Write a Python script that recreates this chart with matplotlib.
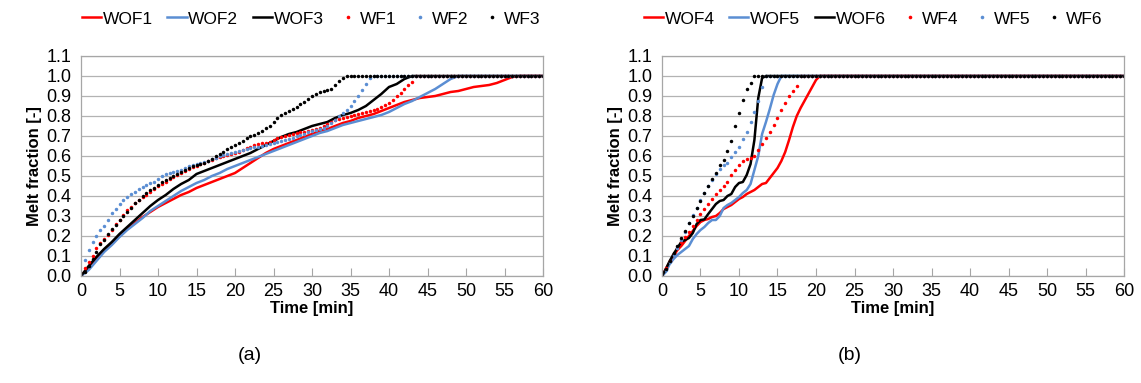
import numpy as np
import matplotlib
matplotlib.use("Agg")
import matplotlib.pyplot as plt
from matplotlib.lines import Line2D

plt.rcParams['font.family'] = ['Liberation Sans', 'DejaVu Sans']

RED = '#ff0000'
BLUE = '#5b8ed3'
BLACK = '#000000'

# ---- panel (a) data ----
# solid lines, 1 min steps
t_wof_a = list(range(0, 58)) + [60]
wof1 = [0.0, 0.045, 0.09, 0.13, 0.16, 0.2, 0.235, 0.265, 0.295, 0.32,
        0.345, 0.365, 0.385, 0.405, 0.42, 0.44, 0.455, 0.47, 0.485, 0.5,
        0.515, 0.54, 0.565, 0.59, 0.615, 0.635, 0.65, 0.665, 0.68, 0.695,
        0.71, 0.725, 0.735, 0.75, 0.765, 0.775, 0.79, 0.8, 0.81, 0.825,
        0.84, 0.855, 0.87, 0.88, 0.89, 0.895, 0.9, 0.91, 0.92, 0.925,
        0.935, 0.945, 0.95, 0.955, 0.965, 0.98, 0.995, 1.0, 1.0]
t_wof2 = list(range(0, 50)) + [60]
wof2 = [0.0, 0.03, 0.075, 0.12, 0.155, 0.195, 0.23, 0.26, 0.29, 0.325,
        0.35, 0.375, 0.4, 0.425, 0.445, 0.465, 0.48, 0.5, 0.515, 0.535,
        0.55, 0.565, 0.58, 0.595, 0.61, 0.625, 0.64, 0.655, 0.67, 0.685,
        0.7, 0.715, 0.725, 0.74, 0.755, 0.765, 0.775, 0.785, 0.795, 0.805,
        0.82, 0.84, 0.86, 0.875, 0.895, 0.915, 0.935, 0.96, 0.985, 1.0, 1.0]
t_wof3 = list(range(0, 44)) + [60]
wof3 = [0.0, 0.05, 0.095, 0.135, 0.17, 0.21, 0.245, 0.28, 0.315, 0.35,
        0.38, 0.405, 0.435, 0.46, 0.48, 0.51, 0.525, 0.54, 0.555, 0.57,
        0.585, 0.6, 0.615, 0.635, 0.655, 0.675, 0.695, 0.71, 0.72, 0.735,
        0.75, 0.76, 0.77, 0.79, 0.805, 0.815, 0.83, 0.85, 0.88, 0.91,
        0.945, 0.96, 0.985, 1.0, 1.0]

# dotted series, 0.5 min steps (rising part, then held at 1.0)
t_dots = np.arange(0, 60.01, 0.5)
wf1_rise = [0.0, 0.04, 0.07, 0.1, 0.14, 0.165, 0.185, 0.205, 0.23, 0.26,
            0.28, 0.305, 0.33, 0.345, 0.365, 0.38, 0.395, 0.405, 0.42, 0.435,
            0.45, 0.46, 0.47, 0.485, 0.495, 0.505, 0.515, 0.525, 0.535, 0.545,
            0.55, 0.56, 0.565, 0.575, 0.58, 0.59, 0.595, 0.6, 0.605, 0.61,
            0.615, 0.62, 0.63, 0.64, 0.645, 0.655, 0.66, 0.665, 0.665, 0.67,
            0.68, 0.69, 0.695, 0.7, 0.705, 0.71, 0.715, 0.72, 0.72, 0.725,
            0.73, 0.735, 0.74, 0.75, 0.76, 0.77, 0.78, 0.785, 0.79, 0.795,
            0.8, 0.805, 0.81, 0.815, 0.82, 0.825, 0.83, 0.835, 0.845, 0.855,
            0.865, 0.88, 0.9, 0.915, 0.935, 0.955, 0.97, 1.0]
wf2_rise = [0.0, 0.08, 0.13, 0.17, 0.2, 0.23, 0.25, 0.28, 0.315, 0.335,
            0.36, 0.38, 0.395, 0.41, 0.42, 0.435, 0.445, 0.455, 0.465, 0.472,
            0.485, 0.5, 0.51, 0.515, 0.52, 0.525, 0.53, 0.54, 0.55, 0.555,
            0.56, 0.565, 0.57, 0.575, 0.585, 0.59, 0.6, 0.605, 0.61, 0.615,
            0.62, 0.625, 0.63, 0.635, 0.64, 0.645, 0.645, 0.65, 0.655, 0.66,
            0.665, 0.67, 0.675, 0.68, 0.685, 0.69, 0.7, 0.705, 0.71, 0.72,
            0.725, 0.73, 0.735, 0.74, 0.75, 0.765, 0.78, 0.8, 0.815, 0.83,
            0.85, 0.875, 0.9, 0.93, 0.96, 0.99, 1.0]
wf3_rise = [0.0, 0.02, 0.05, 0.085, 0.12, 0.16, 0.18, 0.21, 0.235, 0.255,
            0.28, 0.3, 0.32, 0.34, 0.365, 0.38, 0.4, 0.415, 0.43, 0.44,
            0.455, 0.47, 0.48, 0.49, 0.5, 0.51, 0.52, 0.53, 0.54, 0.55,
            0.555, 0.56, 0.565, 0.575, 0.585, 0.6, 0.61, 0.62, 0.635, 0.645,
            0.655, 0.665, 0.675, 0.69, 0.7, 0.705, 0.715, 0.725, 0.74, 0.75,
            0.77, 0.79, 0.805, 0.815, 0.825, 0.835, 0.845, 0.86, 0.87, 0.885,
            0.9, 0.91, 0.92, 0.925, 0.93, 0.935, 0.955, 0.975, 0.99, 1.0]

# ---- panel (b) data ----
t_wof4 = list(np.arange(0, 20.51, 0.5)) + [60]
wof4 = [0.0, 0.035, 0.07, 0.1, 0.13, 0.15, 0.175, 0.2, 0.225, 0.25,
        0.27, 0.28, 0.285, 0.295, 0.3, 0.315, 0.335, 0.345, 0.355, 0.37,
        0.385, 0.395, 0.41, 0.42, 0.43, 0.445, 0.46, 0.465, 0.49, 0.515,
        0.54, 0.575, 0.62, 0.68, 0.745, 0.8, 0.84, 0.875, 0.91, 0.945,
        0.98, 1.0, 1.0]
t_wof5 = list(np.arange(0, 15.51, 0.5)) + [60]
wof5 = [0.0, 0.02, 0.06, 0.085, 0.105, 0.12, 0.135, 0.15, 0.185, 0.21,
        0.23, 0.245, 0.265, 0.28, 0.28, 0.3, 0.34, 0.355, 0.365, 0.38,
        0.395, 0.415, 0.43, 0.46, 0.53, 0.6, 0.71, 0.77, 0.835, 0.905,
        0.96, 1.0, 1.0]
t_wof6 = list(np.arange(0, 13.51, 0.5)) + [60]
wof6 = [0.0, 0.035, 0.075, 0.11, 0.14, 0.17, 0.18, 0.19, 0.215, 0.26,
        0.28, 0.283, 0.31, 0.335, 0.36, 0.375, 0.38, 0.4, 0.41, 0.445,
        0.465, 0.47, 0.505, 0.56, 0.68, 0.89, 0.99, 1.0, 1.0]

wf4_rise = [0.0, 0.04, 0.075, 0.11, 0.14, 0.17, 0.195, 0.22, 0.25, 0.28,
            0.31, 0.335, 0.36, 0.385, 0.41, 0.43, 0.45, 0.468, 0.505, 0.53,
            0.555, 0.575, 0.585, 0.59, 0.6, 0.63, 0.66, 0.69, 0.72, 0.755,
            0.79, 0.83, 0.865, 0.9, 0.925, 0.95, 1.0]
wf5_rise = [0.0, 0.03, 0.07, 0.105, 0.14, 0.18, 0.22, 0.265, 0.305, 0.34,
            0.38, 0.413, 0.45, 0.48, 0.51, 0.535, 0.555, 0.567, 0.595, 0.62,
            0.645, 0.685, 0.72, 0.77, 0.82, 0.875, 0.945, 1.0]
wf6_rise = [0.0, 0.035, 0.075, 0.113, 0.15, 0.19, 0.225, 0.263, 0.3, 0.34,
            0.377, 0.417, 0.45, 0.485, 0.517, 0.553, 0.58, 0.625, 0.677, 0.75,
            0.813, 0.878, 0.937, 0.963, 1.0]


def held(vals):
    return vals + [1.0] * (len(t_dots) - len(vals))


panels = [
    dict(lines=[(t_wof_a, wof1, 'WOF1', RED), (t_wof2, wof2, 'WOF2', BLUE),
                (t_wof3, wof3, 'WOF3', BLACK)],
         dots=[(wf1_rise, 'WF1', RED), (wf2_rise, 'WF2', BLUE),
               (wf3_rise, 'WF3', BLACK)],
         tag='(a)', leg_x=311, tag_x=250),
    dict(lines=[(t_wof4, wof4, 'WOF4', RED), (t_wof5, wof5, 'WOF5', BLUE),
                (t_wof6, wof6, 'WOF6', BLACK)],
         dots=[(wf4_rise, 'WF4', RED), (wf5_rise, 'WF5', BLUE),
               (wf6_rise, 'WF6', BLACK)],
         tag='(b)', leg_x=873, tag_x=850),
]

W, H = 1141, 383
fig = plt.figure(figsize=(W / 100, H / 100), dpi=100)
ax_lefts = [81 / W, 662 / W]
ax_w = 462 / W
ax_b = 1 - 276 / H
ax_h = 220 / H

for i, p in enumerate(panels):
    ax = fig.add_axes([ax_lefts[i], ax_b, ax_w, ax_h])
    handles = []
    for t, v, name, c in p['lines']:
        h, = ax.plot(t, v, '-', color=c, lw=1.8, label=name)
        handles.append(h)
    for v, name, c in p['dots']:
        h, = ax.plot(t_dots, held(v), 'o', color=c, ms=2.5, mew=0,
                     label=name)
        handles.append(h)

    ax.set_xlim(0, 60)
    ax.set_ylim(0, 1.1)
    ax.set_xticks(np.arange(0, 61, 5))
    ax.set_yticks(np.arange(0, 1.11, 0.1))
    ax.set_yticklabels([f"{y:.1f}" for y in np.arange(0, 1.11, 0.1)])
    ax.yaxis.grid(True, color='#b3b3b3', lw=0.9)
    ax.set_axisbelow(True)
    for s in ax.spines.values():
        s.set_color('#a6a6a6')
        s.set_linewidth(0.9)
    ax.tick_params(axis='x', direction='in', length=6, color='#a6a6a6',
                   labelsize=13, pad=5)
    ax.tick_params(axis='y', length=0, labelsize=13, pad=7)
    ax.set_xlabel('Time [min]', fontsize=12, fontweight='bold', labelpad=1)
    ax.set_ylabel('Melt fraction [-]', fontsize=12, fontweight='bold',
                  labelpad=3)

    leg_handles = []
    for h in handles:
        if h.get_linestyle() == '-':
            leg_handles.append(Line2D([], [], color=h.get_color(), lw=1.8))
        else:
            leg_handles.append(Line2D([], [], color=h.get_color(), ls='none',
                                      marker='o', ms=2.6, mew=0))
    fig.legend(leg_handles, [h.get_label() for h in handles], ncol=6,
               loc='center', bbox_to_anchor=(p['leg_x'] / W, 1 - 19 / H),
               frameon=False, fontsize=12.5, handlelength=1.1,
               handletextpad=0.1, columnspacing=0.85)
    fig.text(p['tag_x'] / W, 1 - 355 / H, p['tag'],
             ha='center', va='center', fontsize=14)

fig.savefig('out.png', dpi=100)
